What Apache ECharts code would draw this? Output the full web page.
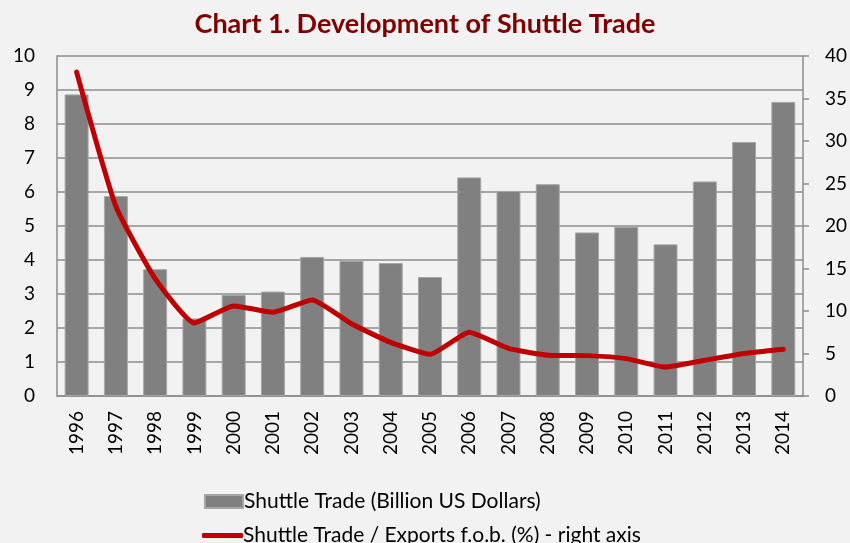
<!DOCTYPE html>
<html>
<head>
<meta charset="utf-8">
<script src="https://cdn.jsdelivr.net/npm/echarts@6/dist/echarts.min.js"></script>
<style>
  html, body { margin: 0; padding: 0; background: #f2f2f2; }
  #chart { width: 850px; height: 543px; }
</style>
</head>
<body>
<div id="chart"></div>
<script>
// values
var years = ['1996','1997','1998','1999','2000','2001','2002','2003','2004','2005',
             '2006','2007','2008','2009','2010','2011','2012','2013','2014'];
var shuttleTrade = [8.87, 5.88, 3.73, 2.28, 2.97, 3.07, 4.09, 3.98, 3.91, 3.5,
                    6.43, 6.03, 6.23, 4.81, 4.98, 4.46, 6.31, 7.47, 8.65];
var shareOfExports = [38.1, 22.3, 13.8, 8.6, 10.6, 9.85, 11.3, 8.5, 6.3, 4.9,
                      7.5, 5.6, 4.8, 4.75, 4.4, 3.4, 4.2, 5.0, 5.5];
var leftTicks = [0, 10, 1];   // min, max, step
var rightTicks = [0, 40, 5];

var barName = 'Shuttle Trade (Billion US Dollars)';
var lineName = 'Shuttle Trade / Exports f.o.b. (%) - right axis';
var font = 'Lato, "Open Sans", sans-serif';

var myChart = echarts.init(document.getElementById('chart'));
var option = {
  backgroundColor: '#f2f2f2',
  animation: false,
  textStyle: { fontFamily: font },
  title: {
    text: 'Chart 1. Development of Shuttle Trade',
    left: 'center',
    top: 6,
    textStyle: { color: '#800000', fontSize: 27, fontWeight: 'bold', fontFamily: font }
  },
  legend: [{
    data: [barName],
    orient: 'vertical',
    left: 199,
    top: 486,
    itemWidth: 38,
    itemHeight: 13,
    icon: 'rect',
    textStyle: { fontSize: 21, color: '#000', padding: [0, 0, 0, -4] }
  }, {
    data: [lineName],
    orient: 'vertical',
    left: 197,
    top: 520,
    itemWidth: 41,
    itemHeight: 5,
    icon: 'roundRect',
    textStyle: { fontSize: 21, color: '#000', padding: [0, 0, 0, -5] }
  }],
  grid: { left: 57, right: 47, top: 56, height: 340 },
  xAxis: {
    type: 'category',
    data: years,
    axisLine: { lineStyle: { color: '#8c8c8c', width: 1.5 } },
    axisTick: { show: false },
    axisLabel: { rotate: 90, color: '#000', fontSize: 19, margin: 15 }
  },
  yAxis: [{
    type: 'value',
    min: leftTicks[0], max: leftTicks[1], interval: leftTicks[2],
    axisLine: { show: true, lineStyle: { color: '#8c8c8c', width: 1.5 } },
    axisTick: { show: false },
    splitLine: { lineStyle: { color: '#8c8c8c', width: 1.5 } },
    axisLabel: { color: '#000', fontSize: 19, margin: 22 }
  }, {
    type: 'value',
    min: rightTicks[0], max: rightTicks[1], interval: rightTicks[2],
    axisLine: { show: true, lineStyle: { color: '#8c8c8c', width: 1.5 } },
    axisTick: { show: true, length: 6, lineStyle: { color: '#8c8c8c', width: 1.5 } },
    splitLine: { show: false },
    axisLabel: { color: '#000', fontSize: 19, margin: 22 }
  }],
  series: [{
    name: barName,
    type: 'bar',
    data: shuttleTrade,
    barWidth: '61%',
    itemStyle: { color: '#808080', borderColor: '#a6a6a6', borderWidth: 1 }
  }, {
    name: lineName,
    type: 'line',
    yAxisIndex: 1,
    data: shareOfExports,
    showSymbol: false,
    smooth: 0.15,
    lineStyle: { color: '#c00000', width: 5, cap: 'round', join: 'round' },
    itemStyle: { color: '#c00000' }
  }]
};
myChart.setOption(option);
</script>
</body>
</html>
